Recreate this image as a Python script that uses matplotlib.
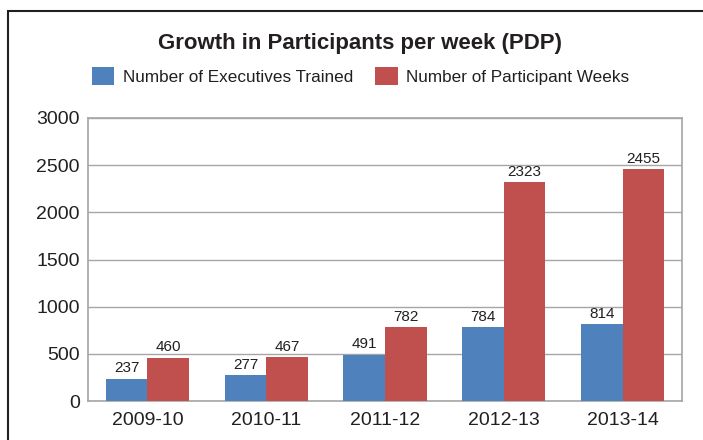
import matplotlib
matplotlib.use("Agg")
import matplotlib.pyplot as plt
import numpy as np
from matplotlib.patches import Rectangle

categories = ["2009-10", "2010-11", "2011-12", "2012-13", "2013-14"]
executives = [237, 277, 491, 784, 814]
participant_weeks = [460, 467, 782, 2323, 2455]
series_names = ["Number of Executives Trained", "Number of Participant Weeks"]
yticks = [0, 500, 1000, 1500, 2000, 2500, 3000]

plt.rcParams['font.family'] = ['Liberation Sans', 'DejaVu Sans']

fig = plt.figure(figsize=(7.03, 4.40), dpi=100)
W, H = 703, 440
ax = fig.add_axes([88 / W, 1 - 401 / H, (682 - 88) / W, (401 - 118) / H])

x = np.arange(len(categories))
bw = 0.35
blue = "#4F81BD"
red = "#C0504D"
b1 = ax.bar(x - bw / 2, executives, bw, color=blue, label=series_names[0], zorder=3)
b2 = ax.bar(x + bw / 2, participant_weeks, bw, color=red, label=series_names[1], zorder=3)

for rects, vals in ((b1, executives), (b2, participant_weeks)):
    for r, v in zip(rects, vals):
        ax.text(r.get_x() + r.get_width() / 2, v + 35, str(v), ha="center", va="bottom",
                fontsize=11, color="#231f20", zorder=4)

ax.set_xlim(-0.5, len(categories) - 0.5)
ax.set_ylim(0, 3000)
ax.set_yticks(yticks)
ax.set_yticklabels([str(t) for t in yticks])
ax.set_xticks(x)
ax.set_xticklabels(categories)
ax.tick_params(axis="both", length=0, labelsize=14, colors="#231f20")
ax.tick_params(axis="x", pad=8)
ax.tick_params(axis="y", pad=6)
ax.yaxis.grid(True, color="#a6a6a6", linewidth=1, zorder=0)
for s in ax.spines.values():
    s.set_color("#a6a6a6")
    s.set_linewidth(1.2)

fig.text(359.5 / W, 1 - 43 / H, "Growth in Participants per week (PDP)", ha="center", va="center",
         fontsize=16, fontweight="bold", color="#231f20")

fig.legend(handles=[b1, b2], labels=series_names, loc="center", bbox_to_anchor=(0.513, 1 - 76 / H),
           ncol=2, frameon=False, fontsize=12.3, handlelength=1.3, handleheight=1.3,
           columnspacing=1.3, handletextpad=0.5, labelcolor="#231f20")

# outer frame
fig.add_artist(Rectangle((8 / W, -0.05), 1.1, 1 - 11 / H + 0.05, transform=fig.transFigure,
                         fill=False, edgecolor="#231f20", linewidth=1.5))

fig.savefig("out.png", dpi=100)
